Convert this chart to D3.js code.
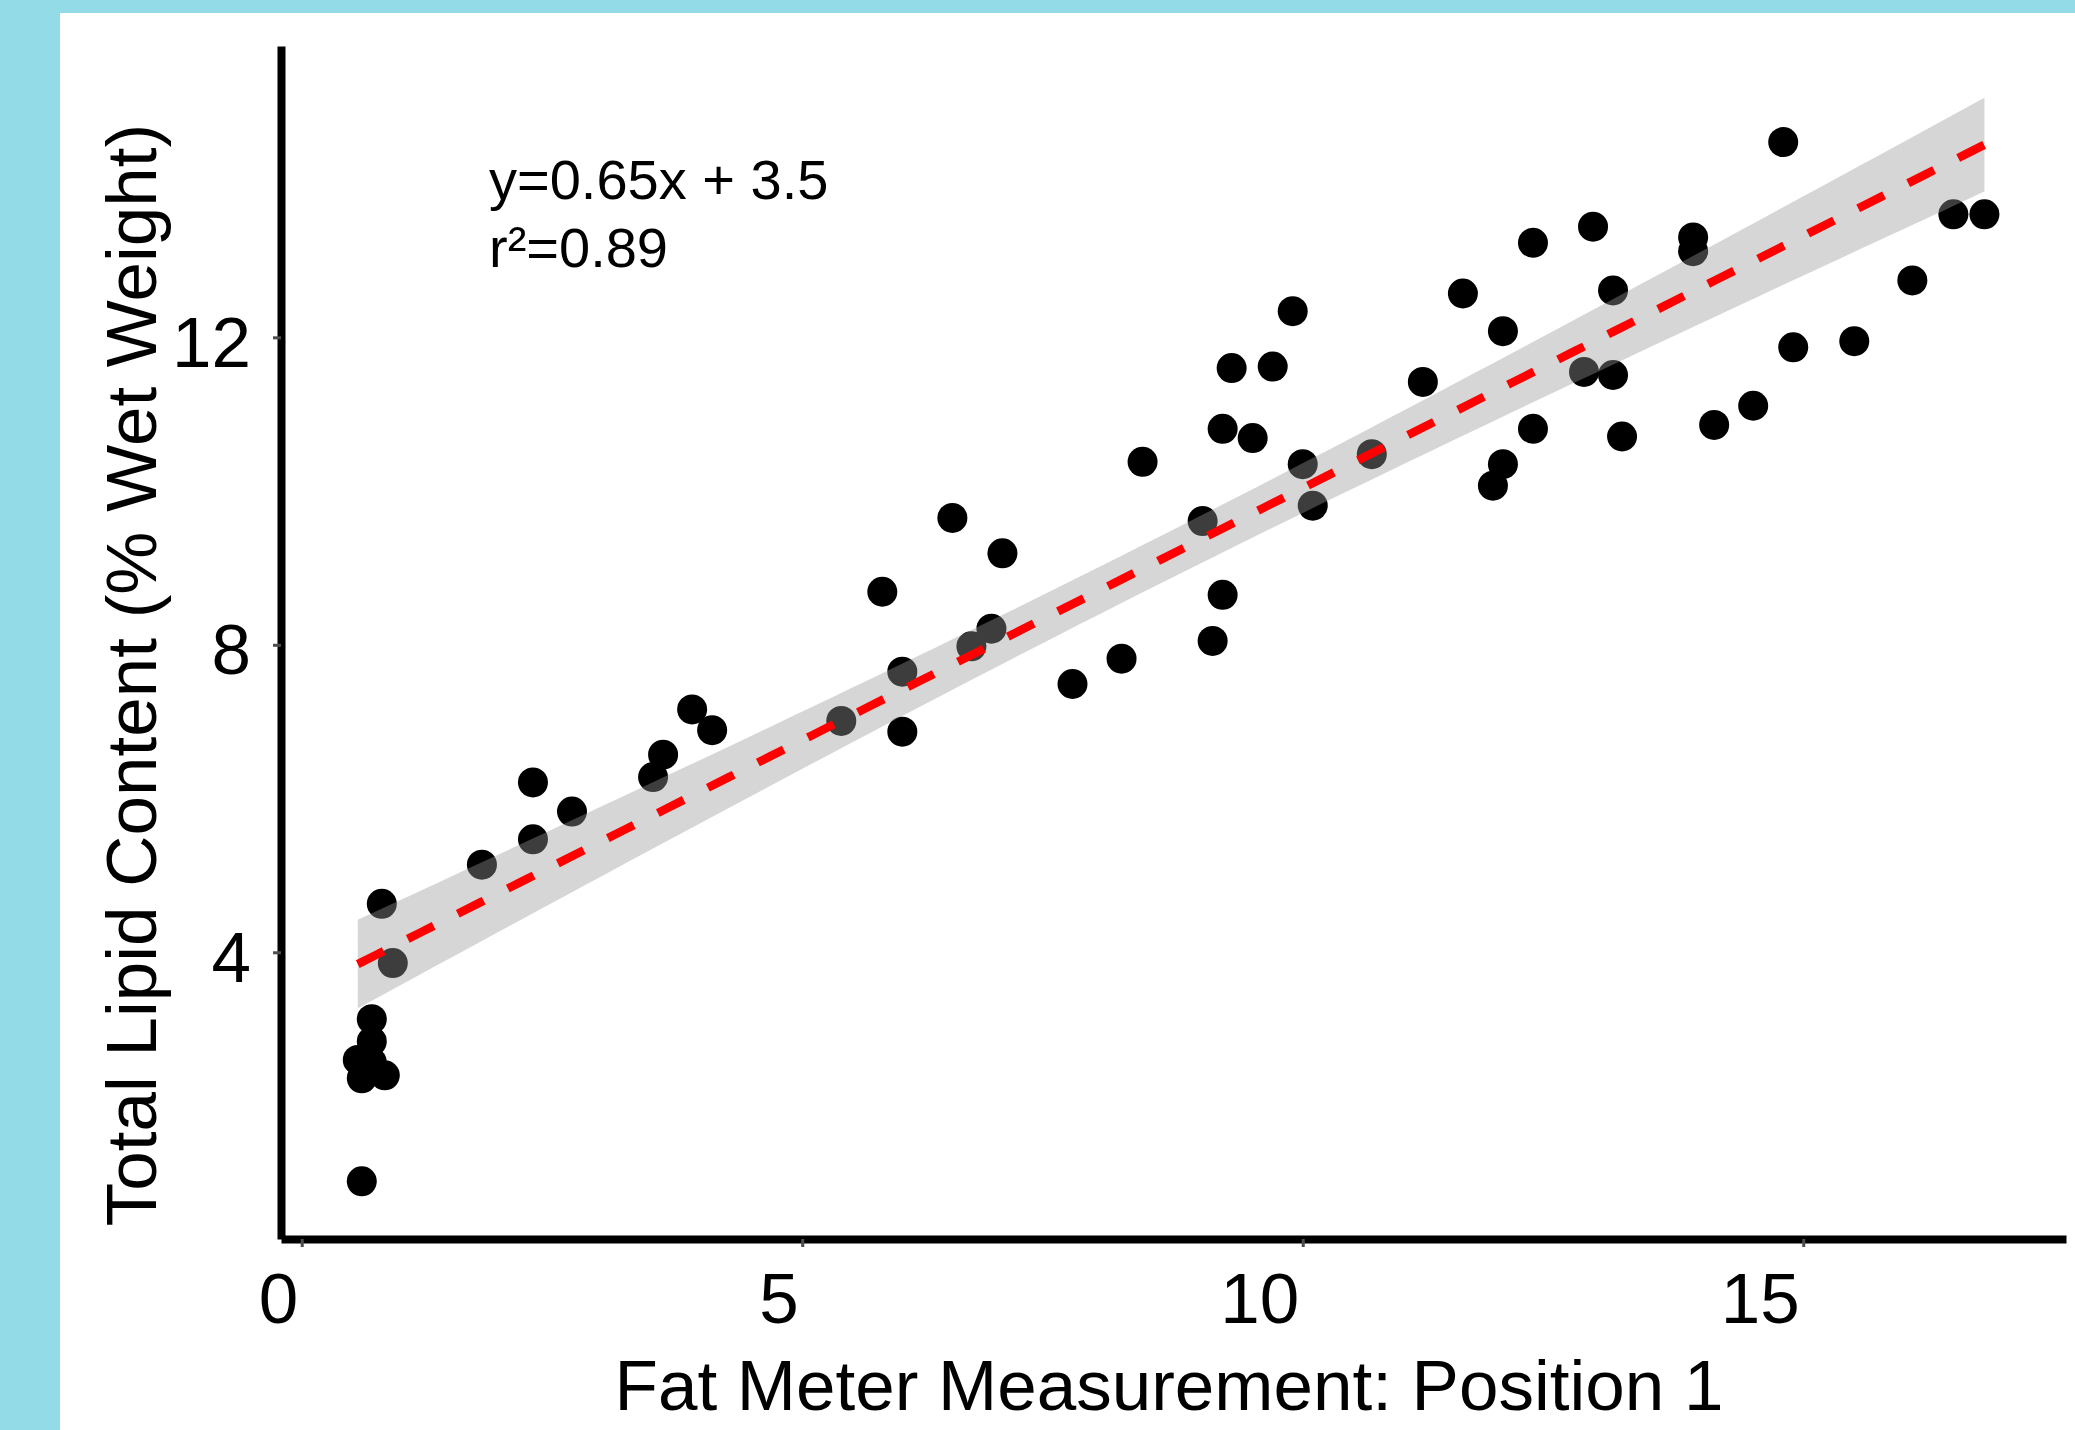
<!DOCTYPE html>
<html>
<head>
<meta charset="utf-8">
<script src="https://cdn.jsdelivr.net/npm/d3@7"></script>
<style>
  html, body { margin: 0; padding: 0; background: #94dbe8; }
  svg { display: block; }
</style>
</head>
<body>
<div id="chart"></div>
<script>
// fat meter reading (x) and lipid content (y)
const fatMeter = [0.60, 0.70, 0.70, 0.56, 0.70, 0.60, 0.83, 0.80, 0.91, 1.80,
  2.31, 2.31, 2.70, 3.51, 3.61, 3.90, 4.10, 5.39, 6.00, 6.00,
  5.80, 6.50, 6.69, 6.89, 7.00, 7.70, 8.19, 8.40, 9.00, 9.10,
  9.20, 9.20, 9.29, 9.50, 9.70, 9.90, 10.00, 10.10, 10.69, 11.20,
  11.60, 11.90, 12.00, 12.00, 12.30, 12.30, 12.81, 13.10, 13.10, 12.90,
  13.19, 13.90, 13.90, 14.11, 14.50, 14.80, 14.90, 15.51, 16.09, 16.50, 16.81];
const lipid = [1.02, 3.13, 2.84, 2.60, 2.57, 2.36, 2.40, 4.63, 3.86, 5.14,
  6.21, 5.47, 5.83, 6.28, 6.57, 7.16, 6.89, 7.01, 6.87, 7.65,
  8.69, 9.65, 7.98, 8.21, 9.19, 7.49, 7.82, 10.38, 9.61, 8.05,
  8.65, 10.81, 11.60, 10.69, 11.62, 12.34, 10.35, 9.81, 10.48, 11.42,
  12.57, 10.07, 10.35, 12.08, 13.23, 10.81, 11.55, 11.51, 12.61, 13.44,
  10.71, 13.30, 13.12, 10.86, 11.11, 14.54, 11.87, 11.95, 12.74, 13.60, 13.60];

const xTicks = [0, 5, 10, 15];
const yTicks = [4, 8, 12];
const xTitle = 'Fat Meter Measurement: Position 1';
const yTitle = 'Total Lipid Content (% Wet Weight)';
const eqLines = ['y=0.65x + 3.5', 'r\u00B2=0.89'];

const width = 2075;
const height = 1430;
const font = '"Liberation Sans", Arial, Helvetica, sans-serif';

const svg = d3.select('#chart')
  .append('svg')
  .attr('width', width)
  .attr('height', height);

// white plot card on the cyan page
svg.append('rect')
  .attr('x', 60).attr('y', 13)
  .attr('width', width - 60).attr('height', height - 13)
  .attr('fill', '#fff');

const x = d3.scaleLinear().domain([-0.207, 17.625]).range([281, 2066]);
const y = d3.scaleLinear().domain([0.27, 15.79]).range([1239, 46]);

// linear fit + 95% confidence band (like geom_smooth(method = "lm"))
const pts = fatMeter.map((d, i) => ({ x: d, y: lipid[i] }));
const n = pts.length;
const mx = d3.mean(fatMeter);
const my = d3.mean(lipid);
const sxx = d3.sum(fatMeter, v => (v - mx) ** 2);
const sxy = d3.sum(pts, p => (p.x - mx) * (p.y - my));
const slope = sxy / sxx;
const intercept = my - slope * mx;
const sse = d3.sum(pts, p => (p.y - intercept - slope * p.x) ** 2);
const s = Math.sqrt(sse / (n - 2));
const tq = 2.001; // t quantile, df = 59
const [x0, x1] = d3.extent(fatMeter);
const band = d3.range(80).map(i => {
  const g = x0 + (x1 - x0) * i / 79;
  const f = intercept + slope * g;
  const se = s * Math.sqrt(1 / n + (g - mx) ** 2 / sxx);
  return { x: g, f: f, lo: f - tq * se, hi: f + tq * se };
});

// points
svg.append('g')
  .selectAll('circle')
  .data(pts)
  .join('circle')
    .attr('cx', d => x(d.x))
    .attr('cy', d => y(d.y))
    .attr('r', 15)
    .attr('fill', '#000');

// ribbon over the points
svg.append('path')
  .datum(band)
  .attr('fill', '#999999')
  .attr('fill-opacity', 0.4)
  .attr('d', d3.area().x(d => x(d.x)).y0(d => y(d.lo)).y1(d => y(d.hi)));

// fitted line
svg.append('path')
  .datum(band)
  .attr('fill', 'none')
  .attr('stroke', '#ff0000')
  .attr('stroke-width', 8.5)
  .attr('stroke-dasharray', '29 27')
  .attr('d', d3.line().x(d => x(d.x)).y(d => y(d.f)));

// axes
const xAxis = svg.append('g')
  .attr('transform', 'translate(0,1239)')
  .call(d3.axisBottom(x).tickValues(xTicks).tickSizeInner(8).tickSizeOuter(0));
xAxis.select('.domain').attr('stroke', '#000').attr('stroke-width', 8);
xAxis.selectAll('.tick line').attr('stroke', '#4d4d4d').attr('stroke-width', 3);
xAxis.selectAll('.tick text')
  .attr('font-family', font).attr('font-size', 71).attr('fill', '#000')
  .attr('text-anchor', 'end')
  .attr('x', -4).attr('y', 84).attr('dy', null);

const yAxis = svg.append('g')
  .attr('transform', 'translate(281,0)')
  .call(d3.axisLeft(y).tickValues(yTicks).tickSizeInner(8).tickSizeOuter(0));
yAxis.select('.domain').attr('stroke', '#000').attr('stroke-width', 8);
yAxis.selectAll('.tick line').attr('stroke', '#4d4d4d').attr('stroke-width', 3);
yAxis.selectAll('.tick text')
  .attr('font-family', font).attr('font-size', 71).attr('fill', '#000')
  .attr('x', -30).attr('y', 29).attr('dy', null);

// titles
svg.append('text')
  .attr('x', 1169).attr('y', 1410)
  .attr('text-anchor', 'middle')
  .attr('font-family', font).attr('font-size', 71)
  .text(xTitle);

svg.append('text')
  .attr('transform', 'translate(156,675) rotate(-90)')
  .attr('text-anchor', 'middle')
  .attr('font-family', font).attr('font-size', 71)
  .text(yTitle);

// equation annotation
svg.append('g')
  .selectAll('text')
  .data(eqLines)
  .join('text')
    .attr('x', 489)
    .attr('y', (d, i) => 199 + i * 68)
    .attr('font-family', font)
    .attr('font-size', 56)
    .text(d => d);
</script>
</body>
</html>
